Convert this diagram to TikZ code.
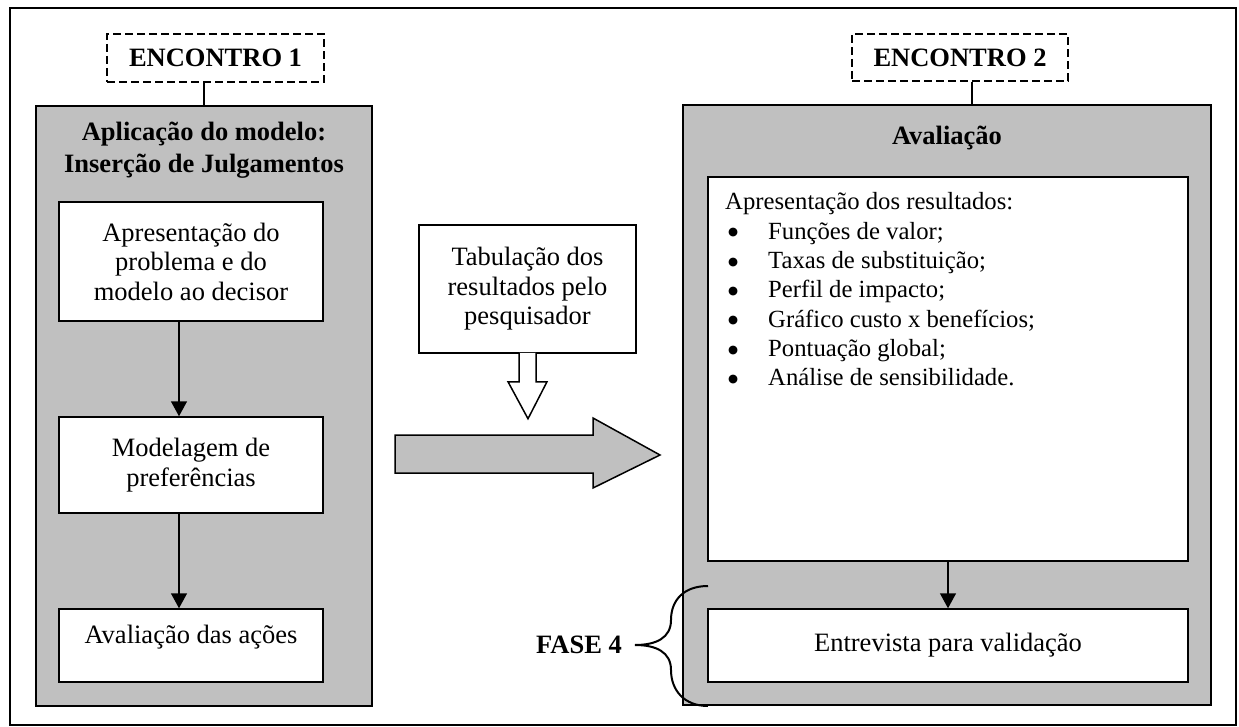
\documentclass[tikz,border=0pt]{standalone}
\usepackage{fontspec}
\setmainfont{Liberation Serif}
\newfontfamily\bulletfont{DejaVu Sans}
\usetikzlibrary{arrows.meta}
\definecolor{boxgray}{RGB}{192,192,192}
\newcommand{\listbullet}{\makebox[40pt][l]{\raisebox{3.5pt}{\bulletfont\fontsize{11.5pt}{11.5pt}\selectfont ●}}}
\tikzset{
  txt/.style={font=\fontsize{26.5pt}{29.5pt}\selectfont, inner sep=0pt},
  ltxt/.style={font=\fontsize{24.7pt}{29.5pt}\selectfont, inner sep=0pt, anchor=base west},
  btxt/.style={font=\bfseries\fontsize{26.5pt}{31.5pt}\selectfont, inner sep=0pt, align=center},
  graybox/.style={draw, line width=1.5pt, fill=boxgray, inner sep=0pt},
  whitebox/.style={draw, line width=1.5pt, fill=white, inner sep=0pt, align=center, txt},
  dashbox/.style={draw, line width=1.5pt, dash pattern=on 8pt off 4pt, inner sep=0pt, font=\bfseries\fontsize{26.5pt}{29.5pt}\selectfont},
  flow/.style={line width=1.5pt, -{Triangle[length=15pt,width=16pt]}},
  link/.style={line width=1.5pt},
  blockarrow/.style={line width=1.5pt, line join=miter},
}
\begin{document}
\begin{tikzpicture}[x=1pt,y=-1pt]
\useasboundingbox (0,0) rectangle (1239,727);
% outer frame
\draw[line width=2.8pt] (10,8) rectangle (1236,725);

% ---------- left column ----------
\node[graybox, minimum width=336pt, minimum height=600pt] (g1) at (204,406) {};
\node[dashbox, minimum width=217pt, minimum height=48pt] (e1) at (215.5,58) {ENCONTRO 1};
\draw[link] (e1.south -| g1.north) -- (g1.north);
\node[btxt] (t1) at (204,150) {Aplicação do modelo:\\Inserção de Julgamentos};

\node[whitebox, minimum width=264pt, minimum height=119pt] (a1) at (191,261.5) {Apresentação do\\problema e do\\modelo ao decisor};
\node[whitebox, minimum width=264pt, minimum height=96pt] (a2) at (191,465) {Modelagem de\\preferências};
\node[whitebox, minimum width=264pt, minimum height=73pt] (a3) at (191,645.5) {};
\node[txt] (a3t) at (191,637) {Avaliação das ações};
\draw[flow] ([xshift=-12pt]a1.south) -- ([xshift=-12pt]a1.south |- a2.north);
\draw[flow] ([xshift=-12pt]a2.south) -- ([xshift=-12pt]a2.south |- a3.north);

% ---------- middle ----------
\node[whitebox, minimum width=217pt, minimum height=128pt] (tab) at (527.5,289) {Tabulação dos\\resultados pelo\\pesquisador};
\begin{scope}[shift={(tab.south)}]
\draw[blockarrow, fill=white] (-8.5,-1) -- (-8.5,28) -- (-19.5,28) -- (0.5,65) -- (19.5,28) -- (8.5,28) -- (8.5,-1);
\end{scope}
\draw[blockarrow, fill=boxgray] (395,435) -- (593,435) -- (593,418) -- (660,455) -- (593,488) -- (593,473) -- (395,473) -- cycle;

% ---------- right column ----------
\node[graybox, minimum width=528pt, minimum height=600pt] (g2) at (947,405) {};
\node[dashbox, minimum width=216pt, minimum height=47pt] (e2) at (960,57.5) {ENCONTRO 2};
\draw[link] ([xshift=12pt]e2.south) -- ([xshift=12pt]e2.south |- g2.north);
\node[btxt] (t2) at (947,138) {Avaliação};

\node[whitebox, minimum width=480pt, minimum height=384pt] (b1) at (948,369) {};
\node[whitebox, minimum width=480pt, minimum height=73pt] (b2) at (948,645.5) {Entrevista para validação};
\draw[flow] (b1.south) -- (b2.north);

\node[ltxt] (l0) at (725,210) {Apresentação dos resultados:};
\node[ltxt] (l1) at (728,239.3) {\listbullet Funções de valor;};
\node[ltxt] (l2) at (728,268.6) {\listbullet Taxas de substituição;};
\node[ltxt] (l3) at (728,297.9) {\listbullet Perfil de impacto;};
\node[ltxt] (l4) at (728,327.2) {\listbullet Gráfico custo x benefícios;};
\node[ltxt] (l5) at (728,356.5) {\listbullet Pontuação global;};
\node[ltxt] (l6) at (728,385.8) {\listbullet Análise de sensibilidade.};

% brace and FASE 4
\draw[line width=2pt] (708,586) .. controls (684,586) and (671,600) .. (671,620)
  .. controls (671,638) and (656,645) .. (635,645)
  .. controls (656,645) and (671,652) .. (671,670)
  .. controls (671,690) and (684,706) .. (708,706);
\node[btxt, anchor=east] (fase) at (622,645) {FASE 4};
\end{tikzpicture}
\end{document}
